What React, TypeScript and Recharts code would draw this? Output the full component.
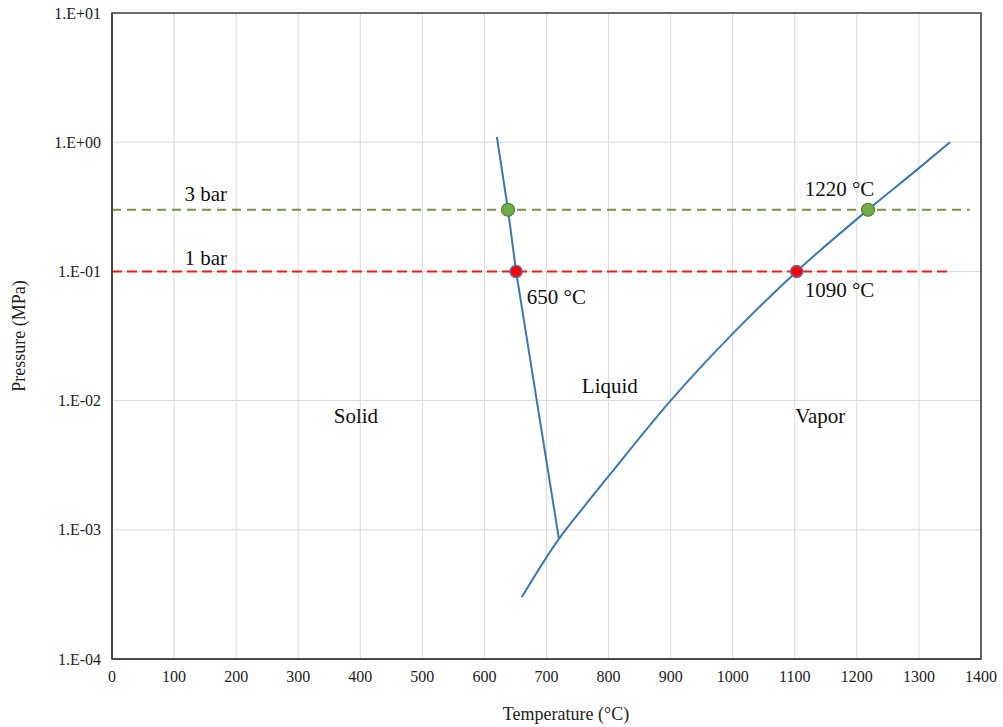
import React from 'react'
import {
  ComposedChart,
  Line,
  XAxis,
  YAxis,
  CartesianGrid,
  ReferenceDot,
  ReferenceArea,
} from 'recharts'

const xTicks = [0, 100, 200, 300, 400, 500, 600, 700, 800, 900, 1000, 1100, 1200, 1300, 1400]
const yTicks = [0.0001, 0.001, 0.01, 0.1, 1, 10]

// solid / liquid boundary
const meltLine = [
  { x: 620, y: 1.1 },
  { x: 638, y: 0.3 },
  { x: 651, y: 0.1 },
  { x: 720, y: 0.00085 },
]

// liquid / vapor boundary (and tail below the triple point)
const vaporLine = [
  { x: 660, y: 0.0003 },
  { x: 720, y: 0.00085 },
  { x: 760, y: 0.0015 },
  { x: 800, y: 0.0026 },
  { x: 900, y: 0.01 },
  { x: 1000, y: 0.033 },
  { x: 1103, y: 0.1 },
  { x: 1218, y: 0.3 },
  { x: 1300, y: 0.63 },
  { x: 1350, y: 1.0 },
]

const bar3 = [
  { x: 0, y: 0.3 },
  { x: 1382, y: 0.3 },
]
const bar1 = [
  { x: 0, y: 0.1 },
  { x: 1350, y: 0.1 },
]

const greenPts = [
  { x: 638, y: 0.3 },
  { x: 1218, y: 0.3 },
]
const redPts = [
  { x: 651, y: 0.1 },
  { x: 1103, y: 0.1 },
]

const notes = [
  { x: 151, y: 0.4, text: '3 bar' },
  { x: 151, y: 0.128, text: '1 bar' },
  { x: 716, y: 0.063, text: '650 °C' },
  { x: 1172, y: 0.432, text: '1220 °C' },
  { x: 1172, y: 0.072, text: '1090 °C' },
  { x: 393, y: 0.0076, text: 'Solid' },
  { x: 802, y: 0.013, text: 'Liquid' },
  { x: 1141, y: 0.0076, text: 'Vapor' },
]

const FONT = '"Liberation Serif", "Times New Roman", serif'

const formatExp = (v: number) => {
  const e = Math.round(Math.log10(v))
  const s = e >= 0 ? '+' : '-'
  const n = Math.abs(e).toString().padStart(2, '0')
  return `1.E${s}${n}`
}

const XTitle = ({ viewBox }: any) => (
  <text x={viewBox.x + 454} y={viewBox.y + 61} textAnchor="middle" style={{ fontFamily: FONT }} fontSize={18} fill="#222">
    Temperature (°C)
  </text>
)

const YTitle = ({ viewBox }: any) => {
  const cx = viewBox.x + 13
  const cy = viewBox.y + viewBox.height / 2
  return (
    <text x={cx} y={cy} transform={`rotate(-90, ${cx}, ${cy})`} textAnchor="middle" style={{ fontFamily: FONT }} fontSize={18} fill="#222">
      Pressure (MPa)
    </text>
  )
}

const noteContent = (text: string) => ({ viewBox }: any) => (
  <text
    x={viewBox.x + (viewBox.width || 0) / 2}
    y={viewBox.y + (viewBox.height || 0) / 2 + 7}
    textAnchor="middle"
    style={{ fontFamily: FONT }}
    fontSize={21}
    fill="#111"
  >
    {text}
  </text>
)

export default function App() {
  const axisStroke = { stroke: '#404040', strokeWidth: 1.6 }
  const tickStyle = { fill: '#222', fontSize: 16, style: { fontFamily: FONT } }
  return (
    <div style={{ position: 'absolute', left: 0, top: 0, background: '#fff', fontFamily: FONT }}>
      <ComposedChart width={1003} height={727} margin={{ top: 13, right: 22, bottom: 0, left: 12 }}>
        <CartesianGrid stroke="#d9d9d9" strokeWidth={1} />
        <XAxis
          dataKey="x"
          type="number"
          domain={[0, 1400]}
          ticks={xTicks}
          allowDataOverflow
          height={68}
          tickLine={false}
          tickMargin={6}
          axisLine={axisStroke}
          tick={tickStyle}
          label={<XTitle />}
        />
        <YAxis
          type="number"
          scale="log"
          domain={[0.0001, 10]}
          ticks={yTicks}
          allowDataOverflow
          width={100}
          tickLine={false}
          tickMargin={5}
          axisLine={axisStroke}
          tickFormatter={formatExp}
          tick={tickStyle}
          label={<YTitle />}
        />
        <ReferenceArea x1={0} x2={1400} y1={0.0001} y2={10} fill="none" stroke="#404040" strokeWidth={1.6} fillOpacity={0} />

        <Line data={bar3} dataKey="y" stroke="#76923c" strokeWidth={2} strokeDasharray="9 6" dot={false} isAnimationActive={false} />
        <Line data={bar1} dataKey="y" stroke="#ee1c1c" strokeWidth={2} strokeDasharray="10 5" dot={false} isAnimationActive={false} />
        <Line data={meltLine} dataKey="y" type="linear" stroke="#3a77b4" strokeWidth={2} dot={false} isAnimationActive={false} />
        <Line data={vaporLine} dataKey="y" type="monotone" stroke="#3a77b4" strokeWidth={2} dot={false} isAnimationActive={false} />
        <Line
          data={greenPts}
          dataKey="y"
          stroke="none"
          dot={{ r: 6.5, fill: '#70ad47', stroke: '#4e7d2f', strokeWidth: 1.2 }}
          isAnimationActive={false}
        />
        <Line
          data={redPts}
          dataKey="y"
          stroke="none"
          dot={{ r: 6, fill: '#ff0000', stroke: '#5c6aa6', strokeWidth: 1.5 }}
          isAnimationActive={false}
        />

        {notes.map((n) => (
          <ReferenceDot
            key={n.text}
            x={n.x}
            y={n.y}
            r={0}
            stroke="none"
            fill="none"
            label={{ content: noteContent(n.text) }}
          />
        ))}
      </ComposedChart>
    </div>
  )
}
